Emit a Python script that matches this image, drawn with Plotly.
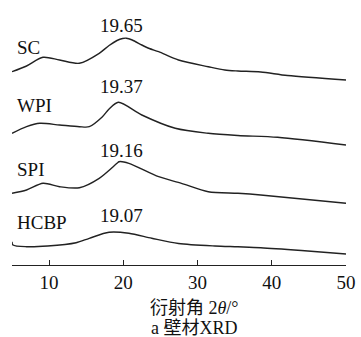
import plotly.graph_objects as go

# 2θ (deg) and intensity (a.u., already offset for stacking)
sc_x = [5.0, 6.96, 9.18, 11.41, 14.08, 16.75, 18.08, 19.15, 19.9, 20.4, 21.2, 22.49, 23.5, 24.76, 27.43, 31.44, 33.67, 35.44, 38.51, 42.12, 50.0]
sc_y = [193.3, 199, 207.7, 205, 201.7, 211.7, 219.5, 224.5, 226.5, 226.8, 225, 220, 216.5, 213.3, 205, 198.3, 195, 194, 193, 189.5, 185]

wpi_x = [5.0, 6.96, 8.74, 11.41, 14.08, 15.41, 17.15, 18.08, 19.33, 22.49, 26.99, 31.44, 35.44, 40.78, 50.0]
wpi_y = [131.7, 138.3, 141.7, 140, 138.3, 138.3, 148, 156, 162.7, 150, 136.7, 131.7, 129.5, 127.7, 120]

spi_x = [5.0, 6.96, 9.18, 11.41, 14.08, 16.75, 19.15, 19.42, 20.75, 24.76, 27.83, 31.44, 35.44, 38.51, 50.0]
spi_y = [71.7, 75, 81.7, 78.3, 77.3, 86.7, 101.7, 103.3, 101.7, 88.3, 81.7, 73.3, 71.7, 70, 61.7]

hcbp_x = [5.0, 5.13, 6.96, 9.8, 13.64, 15.41, 18.08, 20.75, 23.83, 27.43, 32.33, 35.44, 38.51, 44.0, 50.0]
hcbp_y = [23.3, 20, 18.3, 19, 22.3, 26.7, 32.7, 31.7, 26.7, 21.5, 19, 18.2, 17.3, 14.5, 11]

names = ["SC", "WPI", "SPI", "HCBP"]
peaks = ["19.65", "19.37", "19.16", "19.07"]

tick_vals = [5, 10, 20, 30, 40, 50]
tick_text = ["", "10", "20", "30", "40", "50"]

series = [(sc_x, sc_y), (wpi_x, wpi_y), (spi_x, spi_y), (hcbp_x, hcbp_y)]
name_y = [218, 160, 96, 43]
peak_y = [240, 179, 115, 50]

FONT = "Liberation Serif, Times New Roman, Noto Sans CJK SC, serif"

fig = go.Figure()
for (xs, ys), n in zip(series, names):
    fig.add_trace(go.Scatter(x=xs, y=ys, mode="lines", name=n,
                             line=dict(color="#222222", width=1.4, shape="spline", smoothing=0.8),
                             showlegend=False, hoverinfo="skip"))

for n, ny, p, py in zip(names, name_y, peaks, peak_y):
    fig.add_annotation(x=5.35, y=ny, text=n, showarrow=False, xanchor="left", yanchor="middle",
                       font=dict(family=FONT, size=19, color="#111"))
    fig.add_annotation(x=19.7, y=py, text=p, showarrow=False, xanchor="center", yanchor="middle",
                       font=dict(family=FONT, size=19, color="#111"))

fig.add_annotation(xref="paper", yref="paper", x=0.546, y=-0.165, text="衍射角 2<i>θ</i>/°",
                   showarrow=False, xanchor="center", yanchor="middle",
                   font=dict(family=FONT, size=18, color="#111"))
fig.add_annotation(xref="paper", yref="paper", x=0.546, y=-0.242, text="a 壁材XRD",
                   showarrow=False, xanchor="center", yanchor="middle",
                   font=dict(family=FONT, size=18, color="#111"))

fig.update_xaxes(range=[5, 50], tickvals=tick_vals, ticktext=tick_text, ticks="inside", ticklen=5,
                 tickcolor="#222", tickwidth=1.2, showline=True, linecolor="#222", linewidth=1.2,
                 showgrid=False, zeroline=False,
                 tickfont=dict(family=FONT, size=19, color="#111"))
fig.update_yaxes(range=[0, 260], visible=False, showgrid=False, zeroline=False)

fig.update_layout(width=361, height=337, margin=dict(l=12, r=12, t=5, b=72),
                  plot_bgcolor="white", paper_bgcolor="white")

# remove the browser's default 8px body margin so the figure fills the window
fig.write_html("out.html", config={"displayModeBar": False},
               post_script="document.body.style.margin='0';document.body.style.overflow='hidden';")
